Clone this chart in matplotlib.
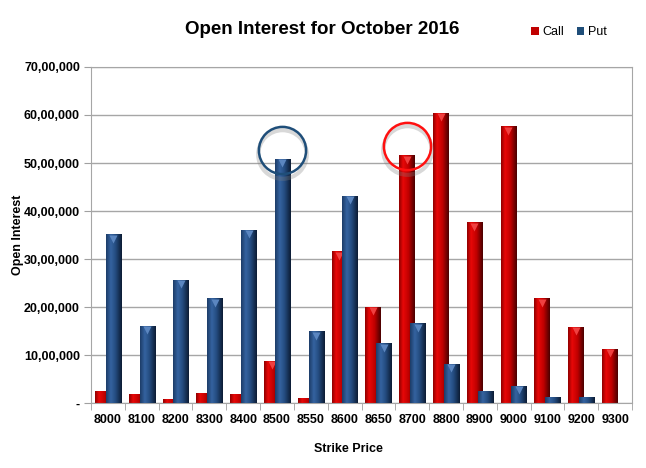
import numpy as np
import matplotlib
matplotlib.use("Agg")
import matplotlib.pyplot as plt
from matplotlib.colors import LinearSegmentedColormap
from matplotlib.ticker import FuncFormatter
from matplotlib.transforms import ScaledTranslation

plt.rcParams['font.family'] = ['Liberation Sans', 'DejaVu Sans']

strikes = ['8000', '8100', '8200', '8300', '8400', '8500', '8550', '8600',
           '8650', '8700', '8800', '8900', '9000', '9100', '9200', '9300']
call_oi = [250000, 167000, 83000, 208000, 167000, 875000, 104000, 3150000,
           2000000, 5150000, 6040000, 3750000, 5750000, 2170000, 1580000, 1120000]
put_oi = [3500000, 1600000, 2560000, 2170000, 3600000, 5080000, 1480000, 4310000,
          1230000, 1650000, 810000, 250000, 350000, 125000, 125000, 0]
# circled strikes: (strike index, series, circle centre value)
highlights = [(5, 'put', 5270000), (9, 'call', 5350000)]

call_cmap = LinearSegmentedColormap.from_list(
    'callg', [(0, '#900000'), (0.25, '#E80808'), (0.6, '#C00000'), (1, '#4A0000')])
put_cmap = LinearSegmentedColormap.from_list(
    'putg', [(0, '#1C3C68'), (0.3, '#3563A0'), (0.6, '#244C80'), (1, '#0C1C34')])

fig = plt.figure(figsize=(6.46, 4.68), dpi=100)
ax = fig.add_axes([91/646, 65/468, 541/646, 336/468])

x = np.arange(len(strikes))
w = 0.45
off = 0.16
bc = ax.bar(x - off, call_oi, w, color='#C00000', zorder=2, label='Call')
bp = ax.bar(x + off, put_oi, w, color='#1F4E79', zorder=3, label='Put')

grad = np.linspace(0, 1, 64).reshape(1, -1)
for bars, cmap, z in [(bc, call_cmap, 2.1), (bp, put_cmap, 3.1)]:
    for r in bars:
        h = r.get_height()
        if h <= 0:
            continue
        ax.imshow(grad, cmap=cmap, aspect='auto', zorder=z,
                  extent=[r.get_x(), r.get_x() + r.get_width(), 0, h])

# little bevel triangles at bar tops
shift = ScaledTranslation(0, -3/72, fig.dpi_scale_trans)
for vals, xs, col, z in [(call_oi, x - off, '#F04040', 2.2), (put_oi, x + off, '#5B86C0', 3.2)]:
    for xi, v in zip(xs, vals):
        if v > 300000:
            ax.plot(xi, v, marker='v', ms=6, color=col, mec='none', zorder=z,
                    transform=ax.transData + shift)

for idx, kind, yc in highlights:
    xc = idx + off if kind == 'put' else idx - off
    col = '#1F4E79' if kind == 'put' else '#FF1010'
    ax.plot(xc, yc, marker='o', ms=35, mfc='none', mec='#808080', mew=3, alpha=0.3,
            zorder=4, transform=ax.transData + ScaledTranslation(0, -3/72, fig.dpi_scale_trans))
    ax.plot(xc, yc, marker='o', ms=34, mfc='none', mec=col, mew=1.8, zorder=5)

ax.set_xlim(-0.5, len(strikes) - 0.5)
ax.set_ylim(0, 7000000)


def indian(v, pos):
    v = int(round(v))
    if v == 0:
        return '-'
    s = str(v)
    last3 = s[-3:]
    rest = s[:-3]
    parts = []
    while len(rest) > 2:
        parts.insert(0, rest[-2:])
        rest = rest[:-2]
    if rest:
        parts.insert(0, rest)
    return ','.join(parts + [last3])


ax.set_yticks(np.arange(0, 7000001, 1000000))
ax.yaxis.set_major_formatter(FuncFormatter(indian))
ax.set_xticks(x)
ax.set_xticklabels(strikes)
ax.set_xticks(np.arange(len(strikes) + 1) - 0.5, minor=True)
ax.tick_params(axis='x', which='major', length=0, pad=8, labelsize=9)
ax.tick_params(axis='x', which='minor', length=5, color='#A0A0A0')
ax.tick_params(axis='y', length=5, color='#A0A0A0', labelsize=9, pad=3)
for lab in ax.get_xticklabels() + ax.get_yticklabels():
    lab.set_fontweight('bold')

ax.grid(axis='y', color='#A6A6A6', linewidth=1, zorder=0)
ax.set_axisbelow(True)
for s in ax.spines.values():
    s.set_color('#A6A6A6')

ax.set_ylabel('Open Interest', fontsize=9, fontweight='bold')
ax.yaxis.set_label_coords(-0.124, 0.5)
ax.set_xlabel('Strike Price', fontsize=9, fontweight='bold')
ax.xaxis.set_label_coords(0.475, -0.118)

fig.text(322/646, 1 - 30/468, 'Open Interest for October 2016', ha='center', va='center',
         fontsize=13.5, fontweight='bold')
fig.legend(handles=[bc, bp], loc='center left', bbox_to_anchor=(520/646, 1 - 32/468),
           ncol=2, frameon=False, fontsize=9, handlelength=0.6, handleheight=0.6,
           handletextpad=0.3, columnspacing=1.0)

fig.savefig('out.png', dpi=100)
